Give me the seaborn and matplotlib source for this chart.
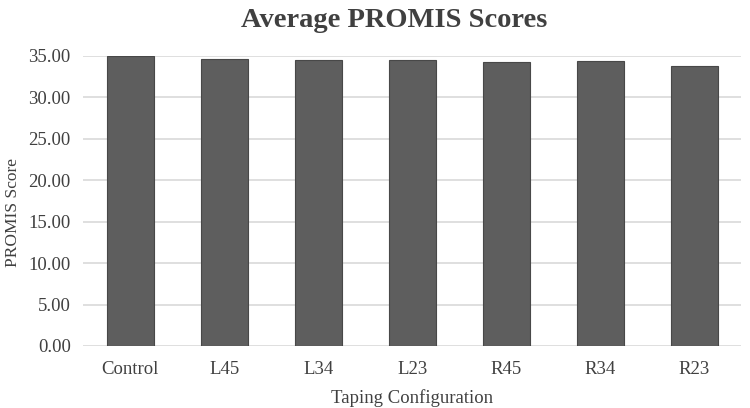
import matplotlib
matplotlib.use("Agg")
import matplotlib.pyplot as plt
import seaborn as sns
import pandas as pd

categories = ["Control", "L45", "L34", "L23", "R45", "R34", "R23"]
scores = [34.95, 34.67, 34.55, 34.55, 34.26, 34.40, 33.80]
yticks = [0, 5, 10, 15, 20, 25, 30, 35]

sns.set_theme(style="white")
plt.rcParams['font.family'] = ['Liberation Serif', 'DejaVu Serif']

df = pd.DataFrame({"cat": categories, "score": scores})

fig = plt.figure(figsize=(7.5, 4.08), dpi=100)
ax = fig.add_axes([0.111, 0.152, 0.877, 0.711])
sns.barplot(data=df, x="cat", y="score", color="#5e5e5e", width=0.5,
            saturation=1, edgecolor="#484848", linewidth=0.8, ax=ax, zorder=3)
ax.set_ylim(0, 35)
ax.set_yticks(yticks)
ax.set_yticklabels([f"{v:.2f}" for v in yticks], fontsize=13.5, color="#404040")
ax.set_xticklabels(categories, fontsize=13.5, color="#404040")
ax.yaxis.grid(True, color="#d9d9d9", linewidth=1.2, zorder=0)
for s in ["top", "right", "left", "bottom"]:
    ax.spines[s].set_visible(False)
ax.tick_params(axis="y", length=0, pad=9)
ax.tick_params(axis="x", length=0, pad=11)
ax.set_xlabel("Taping Configuration", fontsize=13.5, color="#404040", labelpad=8)
ax.set_ylabel("PROMIS Score", fontsize=12.5, color="#404040")
ax.yaxis.set_label_coords(-0.095, 0.46)
fig.text(0.525, 0.95, "Average PROMIS Scores", ha="center", va="center",
         fontsize=20.5, fontweight="bold", color="#404040")
fig.savefig("out.png", dpi=100)
